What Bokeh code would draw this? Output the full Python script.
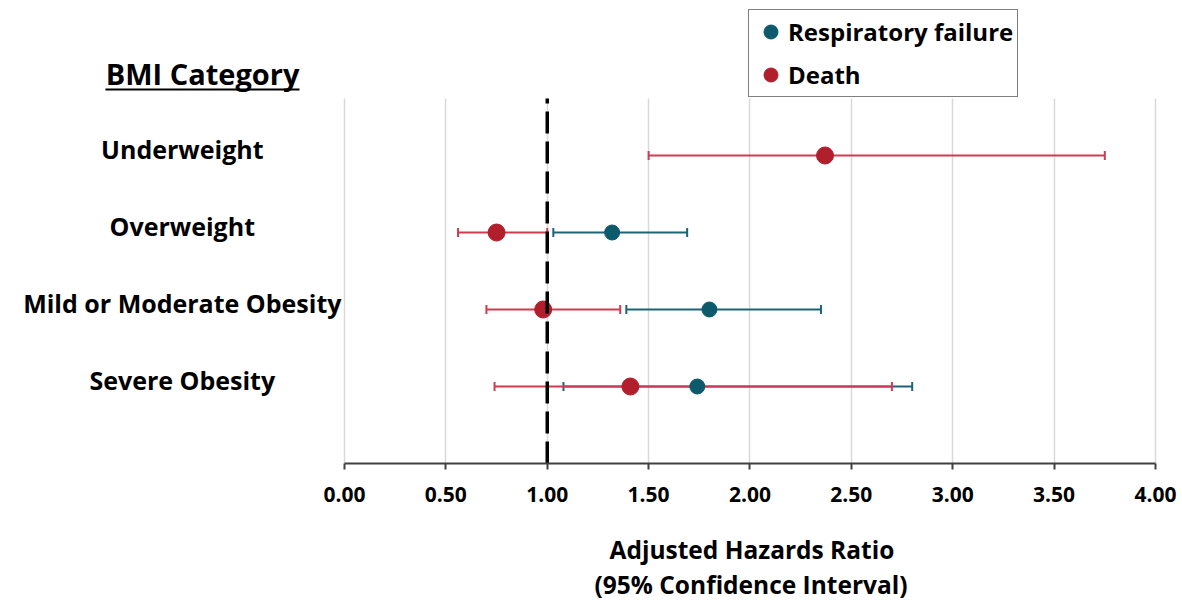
from bokeh.plotting import figure
from bokeh.models import (ColumnDataSource, Range1d, FixedTicker, NumeralTickFormatter,
                          Whisker, TeeHead, Legend, LegendItem, Label, Grid, Title)
from bokeh.core.properties import value
from bokeh.embed import file_html
from bokeh.resources import INLINE

# ---------------- data ----------------
categories = ["Underweight", "Overweight", "Mild or Moderate Obesity", "Severe Obesity"]
category_rows = [4, 3, 2, 1]

resp_categories = ["Overweight", "Mild or Moderate Obesity", "Severe Obesity"]
resp_hr = [1.32, 1.80, 1.74]
resp_lo = [1.03, 1.39, 1.08]
resp_hi = [1.69, 2.35, 2.80]

death_categories = ["Underweight", "Overweight", "Mild or Moderate Obesity", "Severe Obesity"]
death_hr = [2.37, 0.75, 0.98, 1.41]
death_lo = [1.50, 0.56, 0.70, 0.74]
death_hi = [3.75, 1.00, 1.36, 2.70]

x_ticks = [0.0, 0.5, 1.0, 1.5, 2.0, 2.5, 3.0, 3.5, 4.0]
reference_hr = 1.0
header = "BMI Category"
x_title_lines = ["Adjusted Hazards Ratio", "(95% Confidence Interval)"]
series_names = ["Respiratory failure", "Death"]

# ---------------- styling ----------------
TEAL = "#0c5a6b"
TEAL_LINE = "#1d6576"
RED = "#b01f2b"
RED_LINE = "#cf3c50"
FONT = "Open Sans"

row_of = dict(zip(categories, category_rows))
top_row = 4.74

resp_src = ColumnDataSource(dict(y=[row_of[c] for c in resp_categories], hr=resp_hr, lo=resp_lo, hi=resp_hi))
death_src = ColumnDataSource(dict(y=[row_of[c] for c in death_categories], hr=death_hr, lo=death_lo, hi=death_hi))
cat_src = ColumnDataSource(dict(name=categories, y=[r + 0.09 for r in category_rows],
                                x=[-0.80] * len(categories)))

p = figure(width=1182, height=600, x_range=Range1d(-1.6967, 4.1332), y_range=Range1d(0, 6.013),
           output_backend="svg", toolbar_location=None, y_axis_location=None,
           min_border_left=0, min_border_right=0, min_border_top=0, min_border_bottom=137)
p.outline_line_color = None
p.background_fill_color = "white"

# x axis
ax = p.xaxis[0]
ax.bounds = (x_ticks[0], x_ticks[-1])
ax.ticker = FixedTicker(ticks=x_ticks)
ax.formatter = NumeralTickFormatter(format="0.00")
ax.axis_line_color = "#404040"
ax.axis_line_width = 2
ax.major_tick_line_color = "#404040"
ax.major_tick_line_width = 2
ax.major_tick_in = 0
ax.major_tick_out = 6
ax.minor_tick_line_color = None
ax.major_label_text_font = FONT
ax.major_label_text_font_size = "21px"
ax.major_label_text_font_style = "bold"
ax.major_label_text_color = "black"
ax.major_label_standoff = 17

# axis title, two lines below the axis, centred under the HR range 0-4
p.add_layout(Title(text=" ", text_font_size="1px", standoff=23), "below")  # vertical gap
for txt, off in zip(x_title_lines, [609, 594]):
    p.add_layout(Title(text=txt, align="left", offset=off, standoff=0,
                       text_font=FONT, text_font_size="24.5px", text_font_style="bold",
                       text_color="black", text_line_height=0.93), "below")

# grid
p.ygrid.visible = False
g = p.xgrid[0]
g.ticker = FixedTicker(ticks=x_ticks)
g.grid_line_color = "#d9d9d9"
g.grid_line_width = 1.5
if "cross_bounds" in Grid.properties():
    g.cross_bounds = (0, top_row)
else:
    g.visible = False
    p.segment(x0=x_ticks, x1=x_ticks, y0=[0] * len(x_ticks), y1=[top_row] * len(x_ticks),
              line_color="#d9d9d9", line_width=1.5)

# whiskers
for src, col in ((resp_src, TEAL_LINE), (death_src, RED_LINE)):
    w = Whisker(source=src, base="y", lower="lo", upper="hi", dimension="width",
                line_color=col, line_width=2,
                lower_head=TeeHead(size=9, line_color=col, line_width=2),
                upper_head=TeeHead(size=9, line_color=col, line_width=2))
    p.add_layout(w)

r_resp = p.scatter("hr", "y", source=resp_src, size=15, fill_color=TEAL, line_color=TEAL)
r_death = p.scatter("hr", "y", source=death_src, size=17, fill_color=RED, line_color=RED)

# reference line at HR = 1
p.segment(x0=[reference_hr], x1=[reference_hr], y0=[0], y1=[top_row],
          line_color="black", line_width=3.5, line_dash="22 8")

# category labels
p.text(x="x", y="y", text="name", source=cat_src, text_align="center", text_baseline="middle",
       text_font=value(FONT), text_font_size="25px", text_font_style="bold", text_color="black")

# header
p.add_layout(Label(x=-0.70, y=5.065, text=header, text_align="center", text_baseline="middle",
                   text_font=FONT, text_font_size="29px", text_font_style="bold", text_color="black"))
p.segment(x0=[-1.179], x1=[-0.222], y0=[4.857], y1=[4.857], line_color="black", line_width=2)

legend = Legend(items=[LegendItem(label=series_names[0], renderers=[r_resp]),
                       LegendItem(label=series_names[1], renderers=[r_death])],
                location=(748, 366), border_line_color="black", border_line_width=1,
                background_fill_color="white", background_fill_alpha=1,
                label_text_font=FONT, label_text_font_size="24px", label_text_font_style="bold",
                label_text_color="black", glyph_width=35, glyph_height=35, label_height=35,
                spacing=8, padding=4, margin=0, label_standoff=0)
p.add_layout(legend, "center")

open("out.html", "w").write(file_html(p, INLINE))
